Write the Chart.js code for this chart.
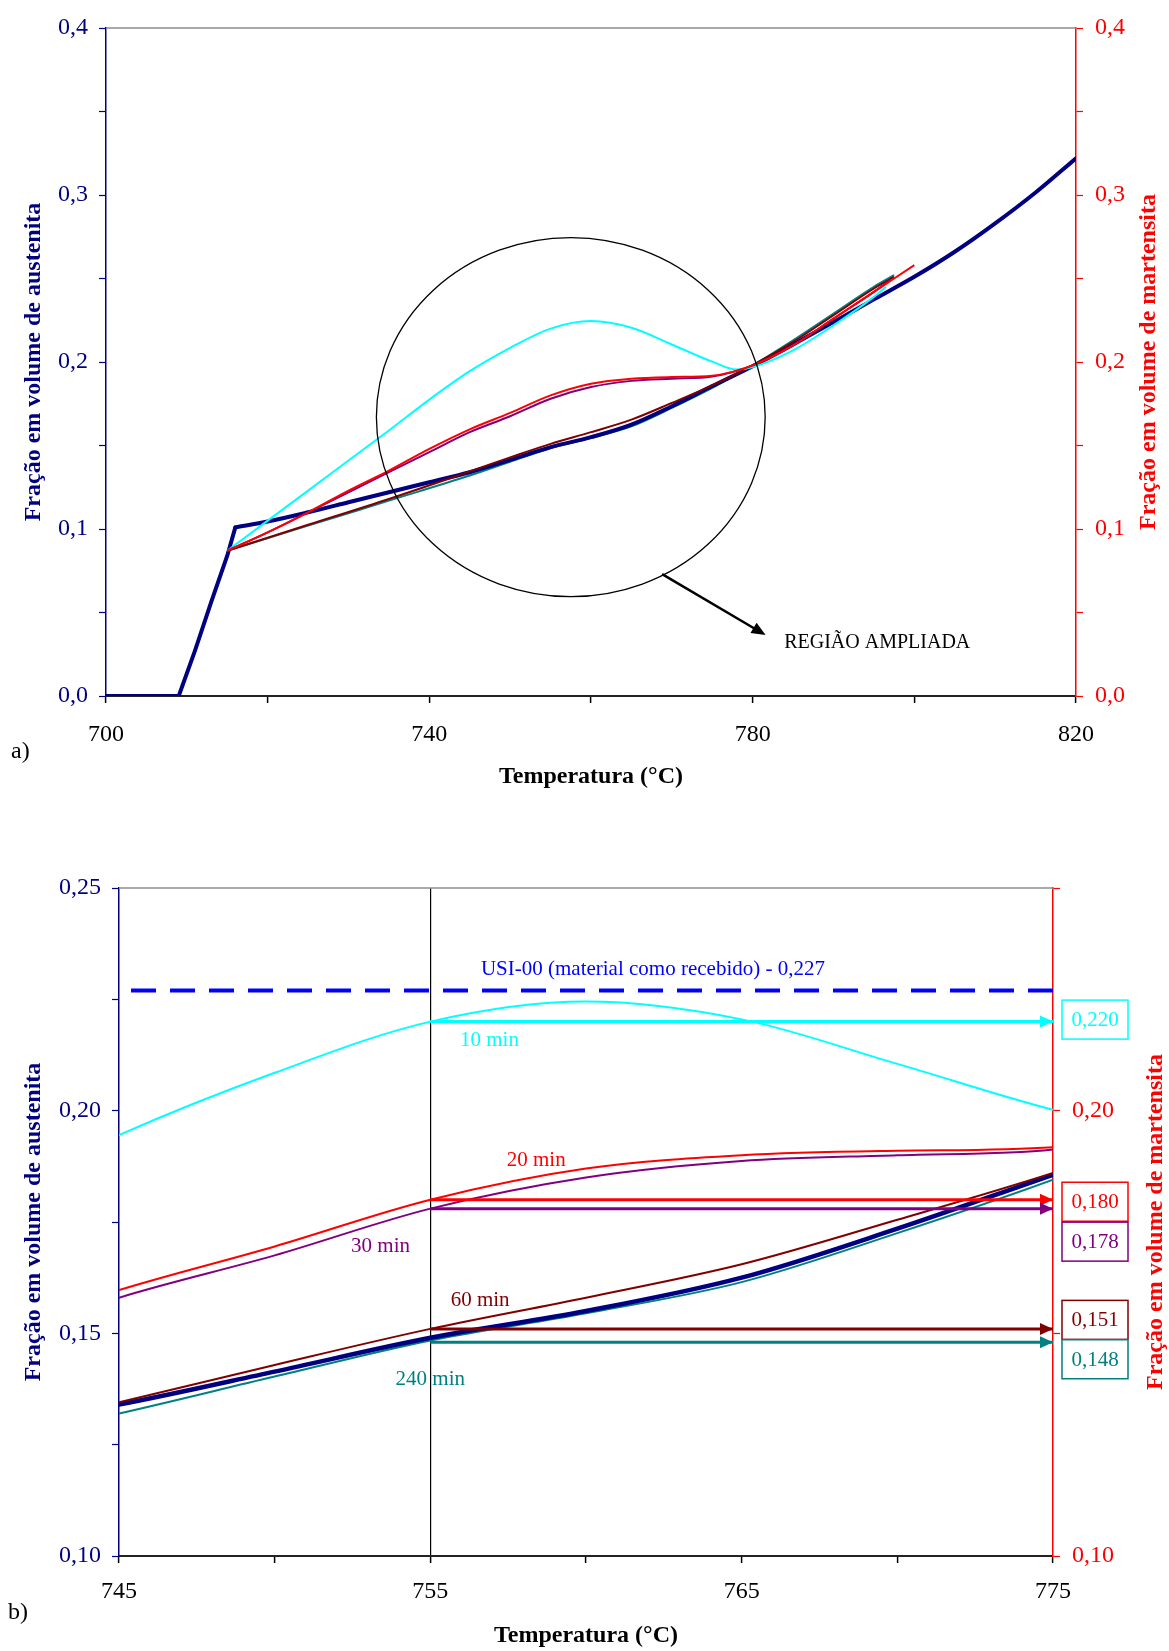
<!DOCTYPE html>
<html lang="pt">
<head>
<meta charset="utf-8">
<title>Fração em volume de austenita e martensita</title>
<script src="https://cdn.jsdelivr.net/npm/chart.js@4.4.1/dist/chart.umd.min.js"></script>
<style>
  body { margin: 0; background: #fff; }
  canvas { position: absolute; left: 0; }
  #fig-a { top: 0; }
  #fig-b { top: 840px; }
  .tag { position: absolute; font: 24px/24px "Liberation Serif", "Times New Roman", serif; color: #000; }
</style>
</head>
<body>
<canvas id="fig-a" width="1169" height="800"></canvas>
<canvas id="fig-b" width="1169" height="811"></canvas>
<div class="tag" style="left:11px; top:738px;">a)</div>
<div class="tag" style="left:8px; top:1599px;">b)</div>
<script>
// rotulos dos eixos
const xTicksA = [700, 740, 780, 820];
const yTicksA = [0, 0.1, 0.2, 0.3, 0.4];
const xTicksB = [745, 755, 765, 775];
const yTicksB = [0.10, 0.15, 0.20, 0.25];
const yRightTicksB = [0.10, 0.20];

// austenita (linha grossa azul marinho); o joelho fica em 716 °C
const tAust = [700, 709, 711, 713, 715, 716, 720, 725, 730, 735, 740, 745, 750, 755, 760, 765, 770, 775, 780, 785, 790, 795, 800, 805, 810, 815, 820];
const austenita = [0, 0, 0.027, 0.056, 0.084, 0.101, 0.1045, 0.110, 0.116, 0.122, 0.128, 0.134, 0.1414, 0.149, 0.155, 0.1625, 0.1735, 0.1856, 0.1975, 0.2105, 0.224, 0.2375, 0.251, 0.266, 0.283, 0.3015, 0.322];
const tJoelho = 716;

// martensita por tempo de tratamento
const t10 = [715, 720, 725, 730, 735, 740, 745, 750, 755, 760, 765, 770, 775, 778, 780, 785, 790, 795, 796.5];
const min10 = [0.087, 0.105, 0.123, 0.141, 0.159, 0.1775, 0.1945, 0.2085, 0.220, 0.2245, 0.2205, 0.2105, 0.2002, 0.1955, 0.197, 0.207, 0.222, 0.239, 0.245];
const t20 = [715, 720, 725, 730, 735, 740, 745, 750, 755, 760, 765, 770, 775, 780, 785, 790, 795, 800];
const min20 = [0.087, 0.098, 0.110, 0.123, 0.135, 0.148, 0.1597, 0.1695, 0.180, 0.187, 0.190, 0.191, 0.1918, 0.198, 0.210, 0.226, 0.242, 0.258];
const t30 = [715, 720, 725, 730, 735, 740, 745, 750, 755, 760, 765, 770, 775, 780, 785, 790, 795, 797];
const min30 = [0.087, 0.098, 0.110, 0.122, 0.134, 0.146, 0.158, 0.1675, 0.178, 0.185, 0.1887, 0.190, 0.1913, 0.198, 0.210, 0.226, 0.242, 0.249];
const t60 = [715, 725, 735, 745, 750, 755, 760, 765, 770, 775, 780, 785, 790, 795, 797.5];
const min60 = [0.087, 0.1025, 0.118, 0.1345, 0.1429, 0.151, 0.158, 0.1655, 0.1755, 0.186, 0.198, 0.212, 0.228, 0.244, 0.251];
const t240 = [715, 725, 735, 745, 750, 755, 760, 765, 770, 775, 780, 785, 790, 795, 797.5];
const min240 = [0.087, 0.102, 0.117, 0.132, 0.1403, 0.1484, 0.1545, 0.1615, 0.1725, 0.1845, 0.198, 0.213, 0.229, 0.245, 0.252];
const tempos = ['10 min', '20 min', '30 min', '60 min', '240 min'];

// valores a 755 °C (setas) e material como recebido
const tCorte = 755;
const fracao755 = [0.220, 0.180, 0.178, 0.151, 0.148];
const usi00 = 0.227;

const cores = ['#00ffff', '#ff0000', '#800080', '#800000', '#008080'];
const serif = '"Liberation Serif", "Times New Roman", serif';
Chart.defaults.font.family = serif;

const tickFont = {family: serif, size: 24};
const titleFont = {family: serif, size: 24, weight: 'bold'};

const pts = (ts, vs) => ts.map((t, i) => ({x: t, y: vs[i]}));
const near = (list, v) => list.some(t => Math.abs(t - v) < 1e-6);
const comma = (v, d) => v.toFixed(d).replace('.', ',');

function curvas(navyWidth) {
  const series = [[t10, min10], [t20, min20], [t30, min30], [t60, min60], [t240, min240]];
  const m = series.map(([ts, vs], i) => ({
    label: tempos[i], data: pts(ts, vs), borderColor: cores[i], borderWidth: 2,
    cubicInterpolationMode: 'monotone', pointRadius: 0
  }));
  // austenita em dois trechos: subida reta ate o joelho, depois curva suave
  const k = tAust.indexOf(tJoelho);
  const all = pts(tAust, austenita);
  const subida = {label: 'austenita', data: all.slice(0, k + 1), borderColor: '#000080',
    borderWidth: navyWidth, pointRadius: 0, borderJoinStyle: 'round'};
  const curva = {label: 'austenita', data: all.slice(k), borderColor: '#000080',
    borderWidth: navyWidth, pointRadius: 0, cubicInterpolationMode: 'monotone', borderCapStyle: 'round'};
  // o primeiro fica por cima
  return [m[1], m[2], m[0], m[3], curva, subida, m[4]];
}

function linhaTopo(chart) {
  const {ctx, chartArea: a} = chart;
  ctx.save();
  ctx.strokeStyle = '#8c8c8c';
  ctx.lineWidth = 1.5;
  ctx.beginPath();
  ctx.moveTo(a.left, a.top);
  ctx.lineTo(a.right, a.top);
  ctx.stroke();
  ctx.restore();
}

function tituloDireita(chart, gap) {
  const {ctx, chartArea: a} = chart;
  ctx.save();
  ctx.translate(chart.width - gap, (a.top + a.bottom) / 2);
  ctx.rotate(-Math.PI / 2);
  ctx.font = 'bold 24px ' + serif;
  ctx.fillStyle = '#ff0000';
  ctx.textAlign = 'center';
  ctx.textBaseline = 'middle';
  ctx.fillText('Fração em volume de martensita', 0, 0);
  ctx.restore();
}

function ponta(ctx, x1, y1, ang, cor, len, half) {
  const bx = x1 - len * Math.cos(ang), by = y1 - len * Math.sin(ang);
  ctx.save();
  ctx.fillStyle = cor;
  ctx.beginPath();
  ctx.moveTo(x1, y1);
  ctx.lineTo(bx + half * Math.sin(ang), by - half * Math.cos(ang));
  ctx.lineTo(bx - half * Math.sin(ang), by + half * Math.cos(ang));
  ctx.closePath();
  ctx.fill();
  ctx.restore();
}

function escalas(c) {
  return {
    x: {
      type: 'linear', min: c.xMin, max: c.xMax,
      ticks: {stepSize: c.xStep, autoSkip: false, maxRotation: 0, font: tickFont, color: '#000', padding: c.xPad,
        callback: v => near(c.xLabels, v) ? String(v) : ''},
      grid: {drawOnChartArea: c.gridAt !== undefined,
        color: g => (g.tick && g.tick.value === c.gridAt) ? '#000' : 'rgba(0,0,0,0)',
        lineWidth: 1.2, tickLength: 7, tickColor: '#000', tickWidth: 1.5},
      border: {color: '#222', width: 2},
      title: {display: true, text: 'Temperatura (°C)', font: titleFont, color: '#000', padding: {top: 0, bottom: c.titlePad}},
      afterFit: s => { s.height = c.xHeight; }
    },
    y: {
      position: 'left', min: c.yMin, max: c.yMax,
      ticks: {stepSize: c.yStep, autoSkip: false, font: tickFont, color: '#000080', padding: 11,
        callback: v => near(c.yLabels, v) ? comma(v, c.dec) : ''},
      grid: {drawOnChartArea: false, tickLength: 7, tickColor: '#000080', tickWidth: 1.2},
      border: {color: '#000080', width: 1.5},
      title: {display: true, text: 'Fração em volume de austenita', font: titleFont, color: '#000080', padding: {top: 19, bottom: 0}},
      afterFit: s => { s.width = c.leftW; }
    },
    y2: {
      position: 'right', min: c.yMin, max: c.yMax,
      ticks: {stepSize: c.y2Step, autoSkip: false, font: tickFont, color: '#ff0000', padding: 12,
        callback: v => near(c.y2Labels, v) ? comma(v, c.dec) : ''},
      grid: {drawOnChartArea: false, tickLength: 7, tickColor: '#ff0000', tickWidth: 1.2},
      border: {color: '#ff0000', width: 1.5},
      afterFit: s => { s.width = c.rightW; }
    }
  };
}

// a) curva completa
new Chart(document.getElementById('fig-a'), {
  type: 'line',
  data: {datasets: curvas(4)},
  options: {
    responsive: false,
    animation: false,
    layout: {padding: {top: 28, left: 0, right: 0, bottom: 0}},
    plugins: {legend: {display: false}, tooltip: {enabled: false}},
    scales: escalas({
      xMin: 700, xMax: 820, xStep: 20, xLabels: xTicksA, xPad: 17, xHeight: 104, titlePad: 9,
      yMin: 0, yMax: 0.4, yStep: 0.05, yLabels: yTicksA, y2Step: 0.05, y2Labels: yTicksA, dec: 1,
      leftW: 106, rightW: 93
    })
  },
  plugins: [{
    id: 'notasA',
    afterDraw(chart) {
      const {ctx, scales: {x, y}} = chart;
      linhaTopo(chart);
      // elipse da regiao ampliada
      const cx = x.getPixelForValue(757.5), cy = y.getPixelForValue(0.167);
      const rx = x.getPixelForValue(757.5 + 24.05) - cx;
      const ry = cy - y.getPixelForValue(0.167 + 0.1075);
      ctx.save();
      ctx.strokeStyle = '#000';
      ctx.lineWidth = 1.3;
      ctx.beginPath();
      ctx.ellipse(cx, cy, rx, ry, 0, 0, 2 * Math.PI);
      ctx.stroke();
      const x0 = x.getPixelForValue(768.8), y0 = y.getPixelForValue(0.073);
      const x1 = x.getPixelForValue(781.6), y1 = y.getPixelForValue(0.0365);
      const ang = Math.atan2(y1 - y0, x1 - x0);
      ctx.lineWidth = 2.5;
      ctx.beginPath();
      ctx.moveTo(x0, y0);
      ctx.lineTo(x1 - 12 * Math.cos(ang), y1 - 12 * Math.sin(ang));
      ctx.stroke();
      ponta(ctx, x1, y1, ang, '#000', 14, 6);
      ctx.font = '20px ' + serif;
      ctx.fillStyle = '#000';
      ctx.textAlign = 'left';
      ctx.textBaseline = 'middle';
      ctx.fillText('REGIÃO AMPLIADA', x.getPixelForValue(783.9), y.getPixelForValue(0.032));
      ctx.restore();
      tituloDireita(chart, 20);
    }
  }]
});

// b) regiao ampliada
const xFimB = xTicksB[xTicksB.length - 1];
const setas = fracao755.map((v, i) => ({
  label: 'seta ' + tempos[i], data: [{x: tCorte, y: v}, {x: xFimB, y: v}],
  borderColor: cores[i], borderWidth: 3, pointRadius: 0
}));
const tracejada = {
  label: 'USI-00', data: [{x: xTicksB[0], y: usi00}, {x: xFimB, y: usi00}],
  borderColor: '#0000ff', borderWidth: 4, borderDash: [25, 14], borderDashOffset: 27, pointRadius: 0
};
const caixaDesloc = [-2, 2, 33, -9, 17];
const rotuloPos = [[756.9, 0.2157], [758.4, 0.1888], [753.4, 0.1696], [756.6, 0.1573], [755.0, 0.1396]];

new Chart(document.getElementById('fig-b'), {
  type: 'line',
  data: {datasets: [tracejada, ...setas, ...curvas(4.5)]},
  options: {
    responsive: false,
    animation: false,
    layout: {padding: {top: 48, left: 0, right: 0, bottom: 0}},
    plugins: {legend: {display: false}, tooltip: {enabled: false}},
    scales: escalas({
      xMin: 745, xMax: 775, xStep: 5, xLabels: xTicksB, xPad: 14, xHeight: 95, titlePad: 1, gridAt: tCorte,
      yMin: 0.10, yMax: 0.25, yStep: 0.025, yLabels: yTicksB, y2Step: 0.05, y2Labels: yRightTicksB, dec: 2,
      leftW: 119, rightW: 116
    })
  },
  plugins: [{
    id: 'notasB',
    afterDraw(chart) {
      const {ctx, chartArea: a, scales: {x, y}} = chart;
      linhaTopo(chart);
      const xf = x.getPixelForValue(xFimB);
      fracao755.forEach((v, i) => {
        const py = y.getPixelForValue(v);
        ponta(ctx, xf, py, 0, cores[i], 13, 6);
        const cy = py + caixaDesloc[i];
        ctx.save();
        ctx.fillStyle = '#fff';
        ctx.strokeStyle = cores[i];
        ctx.lineWidth = 1.5;
        ctx.fillRect(a.right + 9, cy - 19.5, 66, 39);
        ctx.strokeRect(a.right + 9, cy - 19.5, 66, 39);
        ctx.fillStyle = cores[i];
        ctx.font = '21px ' + serif;
        ctx.textAlign = 'center';
        ctx.textBaseline = 'middle';
        ctx.fillText(comma(v, 3), a.right + 42, cy + 1);
        ctx.restore();
      });
      ctx.save();
      ctx.font = '21px ' + serif;
      ctx.textAlign = 'center';
      ctx.textBaseline = 'middle';
      rotuloPos.forEach(([t, v], i) => {
        ctx.fillStyle = cores[i];
        ctx.fillText(tempos[i], x.getPixelForValue(t), y.getPixelForValue(v));
      });
      ctx.fillStyle = '#0000ff';
      ctx.fillText('USI-00 (material como recebido) - ' + comma(usi00, 3), x.getPixelForValue(762.15), y.getPixelForValue(0.2316));
      ctx.restore();
      tituloDireita(chart, 13);
    }
  }]
});
</script>
</body>
</html>
